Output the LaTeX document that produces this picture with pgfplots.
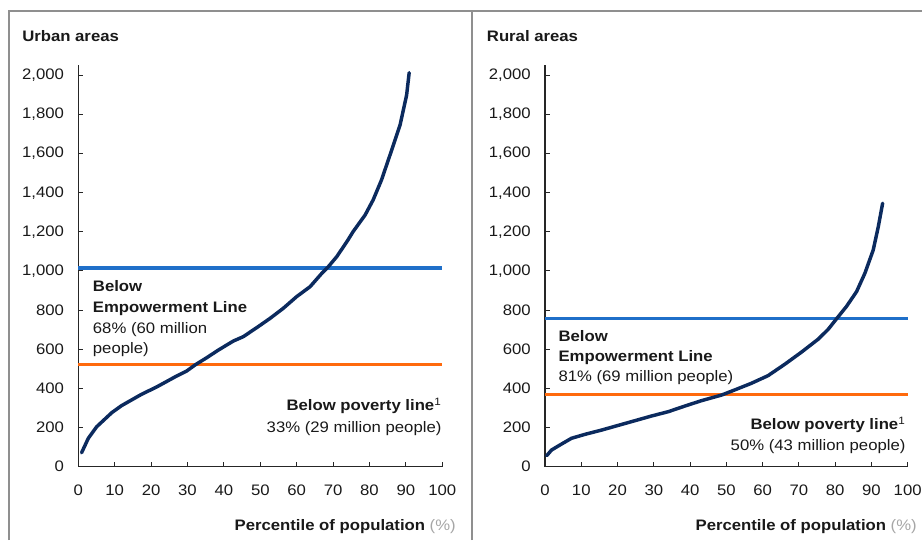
\documentclass[border=0pt]{standalone}
\usepackage{fontspec}
\setmainfont{Liberation Sans}[FakeStretch=1.1]
\usepackage{pgfplots}
\pgfplotsset{compat=1.18}
\definecolor{navy}{HTML}{0B2A5E}
\definecolor{eblue}{HTML}{1F6FC9}
\definecolor{porange}{HTML}{FF6A0D}
\definecolor{framegray}{HTML}{8F8F8F}
\definecolor{pctgray}{HTML}{A6A6A6}
\newcommand\fs{\fontsize{11.4pt}{13.5pt}\selectfont}
\pgfplotsset{panel/.style={
  anchor=south west, scale only axis, height=300.9pt,
  xmin=0, xmax=100, ymin=0, ymax=2050,
  axis lines=left, axis line style={-, line width=0.8pt, black!85},
  xtick={0,10,...,100}, ytick={0,200,...,2000},
  tick align=inside, major tick length=3.75pt,
  tick style={line width=0.8pt, black!85},
  tick label style={font=\fs, inner sep=0pt},
  xticklabel style={anchor=north, yshift=-13.5pt},
  yticklabel style={anchor=east, xshift=-10.5pt},
  /pgf/number format/assume math mode=true,
  /pgf/number format/1000 sep={,},
  clip=false,
}}
\begin{document}
\begin{tikzpicture}[every node/.style={inner sep=0pt, font=\fs, text=black!90}]
\useasboundingbox (0,0) rectangle (691.5pt,405pt);
\draw[framegray, line width=1.4pt] (6.75pt,0) -- (6.75pt,396.75pt) -- (691.5pt,396.75pt);
\draw[framegray, line width=1.4pt] (354pt,0) -- (354pt,396.75pt);

\begin{axis}[panel, at={(58.725pt,55pt)}, width=273pt]
\addplot[eblue, line width=2.3pt] coordinates {(0,1015) (100,1015)};
\addplot[porange, line width=2.3pt] coordinates {(0,520) (100,520)};
\addplot[navy, line width=2.6pt, line join=round, line cap=round] coordinates {
(0.9,71) (2.75,145) (5.05,204) (9.2,276) (11.9,312) (17.4,370) (21.5,407)
(27.0,463) (29.8,489) (32.1,520) (35.3,557) (38.5,596) (42.6,642) (45.3,664)
(49.0,710) (52.7,758) (56.3,809) (60.0,869) (63.7,920) (66.9,988) (68.7,1022)
(71.0,1073) (73.8,1150) (75.5,1201) (78.8,1286) (81.0,1363) (83.3,1465)
(86.1,1618) (88.4,1746) (90.2,1899) (90.9,2013)};
\end{axis}

\begin{axis}[panel, at={(408.75pt,55pt)}, width=272pt]
\addplot[eblue, line width=2.3pt] coordinates {(0,756) (100,756)};
\addplot[porange, line width=2.3pt] coordinates {(0,371) (100,371)};
\addplot[navy, line width=2.6pt, line join=round, line cap=round] coordinates {
(0.45,56) (1.8,85) (4.6,116) (7.3,145) (11.0,165) (15.6,187) (20.2,211)
(24.8,235) (29.4,259) (34.0,281) (38.6,310) (43.1,337) (48.7,366) (52.3,392)
(56.9,426) (61.5,465) (66.1,523) (70.7,585) (75.3,651) (78.1,702) (80.4,756)
(83.1,818) (85.9,894) (88.2,988) (90.5,1107) (91.9,1226) (93.1,1346)};
\end{axis}

\node[anchor=base west] at (16.5pt,373.5pt) {\bfseries Urban areas};
\node[anchor=base west] at (365pt,373.5pt) {\bfseries Rural areas};
\node[anchor=base east] at (342pt,7.5pt) {\bfseries Percentile of population \mdseries\textcolor{pctgray}{(\%)}};
\node[anchor=base east] at (687.75pt,7.5pt) {\bfseries Percentile of population \mdseries\textcolor{pctgray}{(\%)}};

\node[anchor=base west] at (69.5pt,186.2pt) {\bfseries Below};
\node[anchor=base west] at (69.5pt,170.5pt) {\bfseries Empowerment Line};
\node[anchor=base west] at (69.5pt,155.1pt) {68\% (60 million};
\node[anchor=base west] at (69.5pt,139.7pt) {people)};
\node[anchor=base east] at (331.3pt,97pt) {\bfseries Below poverty line{\mdseries\textsuperscript{1}}};
\node[anchor=base east] at (331.3pt,80.5pt) {33\% (29 million people)};

\node[anchor=base west] at (418.7pt,148.7pt) {\bfseries Below};
\node[anchor=base west] at (418.7pt,133.7pt) {\bfseries Empowerment Line};
\node[anchor=base west] at (418.7pt,118.7pt) {81\% (69 million people)};
\node[anchor=base east] at (679.3pt,83pt) {\bfseries Below poverty line{\mdseries\textsuperscript{1}}};
\node[anchor=base east] at (679.3pt,67.5pt) {50\% (43 million people)};
\end{tikzpicture}
\end{document}
